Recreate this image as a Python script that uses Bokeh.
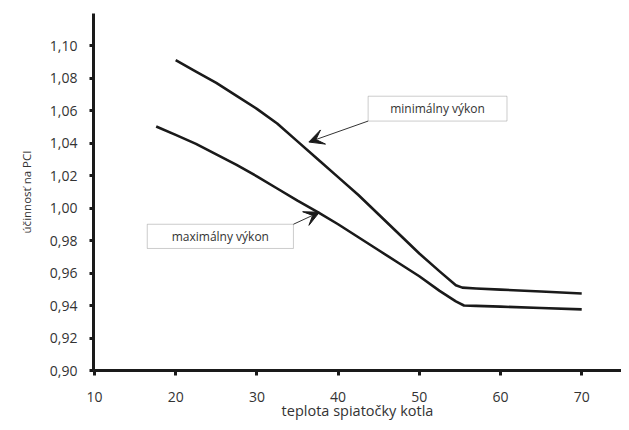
from bokeh.plotting import figure
from bokeh.models import (Range1d, FixedTicker, CustomJSTickFormatter, Arrow, VeeHead,
                          BoxAnnotation, Label, Title)
from bokeh.embed import file_html
from bokeh.resources import INLINE

# --- data ---
min_x = [20, 22.5, 25, 27.5, 30, 32.5, 35, 37.5, 40, 42.5, 45, 47.5, 50, 52.5, 54.5, 55.3, 57, 60, 65, 70]
min_y = [1.091, 1.084, 1.077, 1.069, 1.061, 1.052, 1.041, 1.030, 1.019, 1.008, 0.996, 0.984,
         0.972, 0.961, 0.9525, 0.951, 0.9505, 0.9498, 0.9486, 0.9474]

max_x = [17.6, 20, 22.5, 25, 27.5, 30, 32.5, 35, 37.5, 40, 42.5, 45, 47.5, 50, 52.5, 54.5, 55.5, 57, 60, 65, 70]
max_y = [1.0502, 1.045, 1.0395, 1.033, 1.0265, 1.0195, 1.012, 1.0045, 0.9975, 0.990, 0.982, 0.974,
         0.966, 0.958, 0.949, 0.9425, 0.940, 0.9398, 0.9393, 0.9385, 0.9376]

x_ticks = [10, 20, 30, 40, 50, 60, 70]
y_ticks = [0.90, 0.92, 0.94, 0.96, 0.98, 1.00, 1.02, 1.04, 1.06, 1.08, 1.10]

x_title = "teplota spiatočky kotla"
y_title = "účinnosť na PCI"
label_min = "minimálny výkon"
label_max = "maximálny výkon"

# annotation boxes (data coords) and arrow targets
box_min = dict(left=43.7, right=60.8, bottom=1.0535, top=1.0688)
arrow_min = dict(x_start=43.7, y_start=1.0535, x_end=36.4, y_end=1.0406)
box_max = dict(left=16.5, right=34.5, bottom=0.9751, top=0.9900)
arrow_max = dict(x_start=34.5, y_start=0.9900, x_end=37.7, y_end=0.9974)

FONT = "Open Sans"
TXT = "#333333"
INK = "#1a1a1a"

p = figure(width=621, height=422, output_backend="svg", toolbar_location=None,
           x_range=Range1d(9.88, 74.9), y_range=Range1d(0.90, 1.1197),
           min_border_left=93, min_border_right=0, min_border_top=13, min_border_bottom=52)
p.outline_line_color = None
p.grid.visible = False
p.background_fill_color = "white"
p.border_fill_color = "white"

for ax in (p.xaxis[0], p.yaxis[0]):
    ax.axis_line_width = 3
    ax.axis_line_color = INK
    ax.major_tick_line_width = 3
    ax.major_tick_line_color = INK
    ax.major_tick_in = 0
    ax.minor_tick_line_color = None
    ax.major_label_text_font = FONT
    ax.major_label_text_font_size = "14px"
    ax.major_label_text_color = TXT

p.xaxis.ticker = FixedTicker(ticks=x_ticks)
p.yaxis.ticker = FixedTicker(ticks=y_ticks)
p.xaxis.major_tick_out = 5
p.yaxis.major_tick_out = 4
p.xaxis.major_label_standoff = 16
p.yaxis.major_label_standoff = 12
p.yaxis.formatter = CustomJSTickFormatter(code="return tick.toFixed(2).replace('.', ',');")

p.xaxis.axis_label = x_title
p.xaxis.axis_label_text_font = FONT
p.xaxis.axis_label_text_font_size = "14.5px"
p.xaxis.axis_label_text_font_style = "normal"
p.xaxis.axis_label_text_color = TXT
p.xaxis.axis_label_standoff = -4

p.add_layout(Title(text=y_title, align="center", offset=22, standoff=26,
                   text_font=FONT, text_font_size="11.5px", text_font_style="normal",
                   text_color=TXT), "left")

p.line(min_x, min_y, line_width=2.6, line_color=INK, line_join="round")
p.line(max_x, max_y, line_width=2.6, line_color=INK, line_join="round")

for box, arr, txt in ((box_min, arrow_min, label_min), (box_max, arrow_max, label_max)):
    p.add_layout(BoxAnnotation(**box, fill_color="white", fill_alpha=1.0,
                               line_color="#555555", line_width=1))
    p.add_layout(Label(x=(box["left"] + box["right"]) / 2, y=(box["bottom"] + box["top"]) / 2,
                       text=txt, text_align="center", text_baseline="middle",
                       text_font=FONT, text_font_size="12px", text_color=TXT))
    p.add_layout(Arrow(end=VeeHead(size=15, fill_color=INK, line_color=INK, line_width=1),
                       line_color="#333333", line_width=1, **arr))

open("out.html", "w").write(file_html(p, INLINE))
